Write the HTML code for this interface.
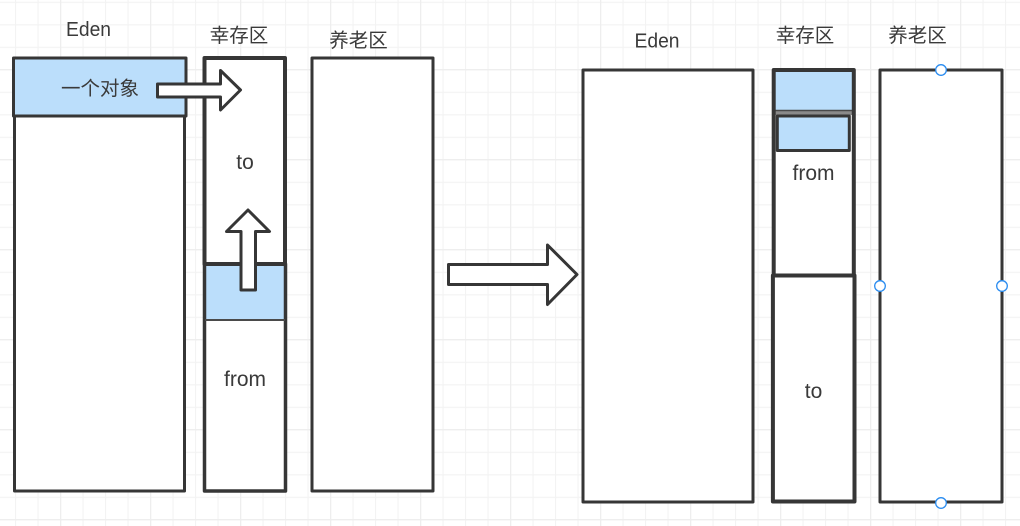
<!DOCTYPE html>
<html><head><meta charset="utf-8"><style>
html,body{margin:0;padding:0;background:#fff;width:1020px;height:526px;overflow:hidden}
svg{display:block}
text{font-family:"Liberation Sans","Noto Sans CJK SC",sans-serif;fill:#3a3a3a;text-anchor:middle}
.c{font-size:19.5px}.l{font-size:20px}.t{font-size:21px}
.b{fill:#fff;stroke:#363636;stroke-width:3;stroke-linejoin:round}
.n{fill:none;stroke:#363636;stroke-linejoin:round}
.f{fill:#bbdefb;stroke:#363636;stroke-width:3;stroke-linejoin:round}
.h{fill:#fff;stroke:#2a8cf0;stroke-width:1.3}
</style></head><body>
<svg width="1020" height="526" viewBox="0 0 1020 526" xmlns="http://www.w3.org/2000/svg">
<defs>
<pattern id="g" x="15" y="1.8" width="22.5" height="22.5" patternUnits="userSpaceOnUse"><path d="M0.5 0V22.5M0 0.5H22.5" stroke="#f3f3f3" stroke-width="1.3" fill="none"/></pattern>
<pattern id="G" x="60" y="69" width="90" height="90" patternUnits="userSpaceOnUse"><path d="M0.5 0V90M0 0.5H90" stroke="#eeeeee" stroke-width="1.6" fill="none"/></pattern>
</defs>
<rect width="1020" height="526" fill="url(#g)"/>
<rect width="1020" height="526" fill="url(#G)"/>

<!-- left -->
<rect class="b" x="14.500" y="116" width="170" height="375"/>
<rect class="f" x="13.500" y="58" width="172.500" height="58"/>
<rect x="204.500" y="58" width="80.500" height="433" fill="#fff"/>
<rect x="204.500" y="264" width="80.500" height="56" fill="#bbdefb"/>
<rect class="n" x="204.500" y="264" width="81" height="227" stroke-width="3.500"/>
<rect class="n" x="204.500" y="58" width="80.500" height="206" stroke-width="4"/>
<path d="M205 320H285" stroke="#4a4a4a" stroke-width="2" fill="none"/>
<rect class="b" x="312" y="58" width="121" height="433"/>
<text class="c" x="100" y="95">一个对象</text>
<polygon class="b" points="157.500,84 220.500,84 220.500,70.500 240.500,90 220.500,110 220.500,97 157.500,97"/>
<polygon class="b" points="248,210 269.500,231.500 255.500,231.500 255.500,290 241,290 241,231.500 226.500,231.500"/>
<text class="l" x="88.500" y="36" textLength="45" lengthAdjust="spacingAndGlyphs">Eden</text>
<text class="c" x="239" y="42">幸存区</text>
<text class="c" x="358.500" y="47">养老区</text>
<text class="t" x="245" y="169">to</text>
<text class="t" x="245" y="386">from</text>

<!-- big arrow -->
<polygon class="b" points="448.500,264.500 547.500,264.500 547.500,245 577,274.500 547.500,304.500 547.500,284.500 448.500,284.500"/>

<!-- right -->
<rect class="b" x="583" y="70" width="170" height="432"/>
<rect x="773" y="70" width="81" height="432" fill="#fff"/>
<rect x="775" y="71" width="78" height="39.500" fill="#bbdefb"/>
<rect x="775" y="110" width="78" height="5" fill="#8a8a8a"/>
<path d="M775 110.500H852" stroke="#4a4a4a" stroke-width="1.500" fill="none"/>
<rect class="f" x="777.300" y="116" width="72" height="34.500"/>
<rect class="n" x="772.900" y="275.500" width="81.600" height="226" stroke-width="4"/>
<rect class="n" x="773.700" y="70" width="80.100" height="205.500" stroke-width="4"/>
<rect class="b" x="880" y="70" width="122" height="432"/>
<circle class="h" cx="941" cy="70" r="5.300"/>
<circle class="h" cx="880" cy="286" r="5.300"/>
<circle class="h" cx="1002" cy="286" r="5.300"/>
<circle class="h" cx="941" cy="503" r="5.300"/>
<text class="l" x="657" y="47.500" textLength="45" lengthAdjust="spacingAndGlyphs">Eden</text>
<text class="c" x="805" y="42">幸存区</text>
<text class="c" x="917.500" y="42">养老区</text>
<text class="t" x="813.500" y="180">from</text>
<text class="t" x="813.500" y="398">to</text>
</svg>
</body></html>
